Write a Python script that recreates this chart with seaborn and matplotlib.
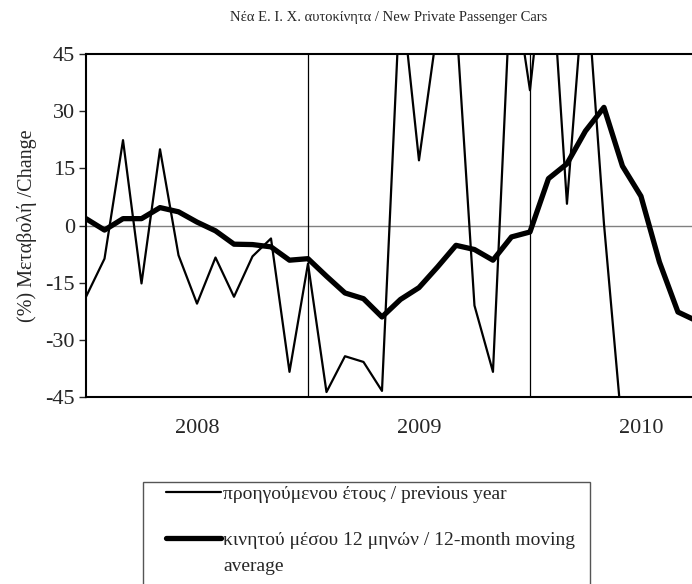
import matplotlib
matplotlib.use("Agg")
import matplotlib.pyplot as plt
import matplotlib.lines as mlines
import matplotlib.patches as mpatches
import seaborn as sns
import pandas as pd

# monthly change (%), one value per month starting Jan 2008
prev_year = [-18.7, -8.7, 22.4, -15.2, 20.0, -7.8, -20.5, -8.4, -18.7, -8.1,
             -3.4, -38.4, -10.0, -43.7, -34.3, -35.8, -43.4, 63.0, 17.1, 52.0,
             55.0, -21.0, -38.4, 68.0, 35.5, 80.0, 5.7, 68.0, 0.5, -54.5]
moving_avg = [1.8, -1.2, 1.8, 1.8, 4.7, 3.6, 0.9, -1.4, -4.9, -5.0,
              -5.6, -9.1, -8.7, -13.3, -17.7, -19.2, -24.0, -19.4, -16.3, -10.9,
              -5.2, -6.3, -9.1, -3.0, -1.7, 12.3, 16.2, 24.8, 31.0, 15.6,
              7.7, -9.6, -22.7, -25.0]
years = ["2008", "2009", "2010"]
yticks = [-45, -30, -15, 0, 15, 30, 45]

label_prev = "προηγούμενου έτους / previous year"
label_avg = "κινητού μέσου 12 μηνών / 12-month moving\naverage"

df_prev = pd.DataFrame({"month": range(len(prev_year)), "value": prev_year})
df_avg = pd.DataFrame({"month": range(len(moving_avg)), "value": moving_avg})

sns.set_style("white")
plt.rcParams["font.family"] = ["Liberation Serif", "DejaVu Serif"]

fig = plt.figure(figsize=(6.92, 5.84), dpi=100)
ax = fig.add_axes([0.1243, 0.3202, 0.8757, 0.5873])

ax.axhline(0, color="#808080", lw=1.0, zorder=1)
for k in range(1, len(years)):
    ax.axvline(12 * k, color="black", lw=0.9, zorder=1)

sns.lineplot(data=df_prev, x="month", y="value", ax=ax, color="black", lw=1.6, zorder=3)
sns.lineplot(data=df_avg, x="month", y="value", ax=ax, color="black", lw=3.8, zorder=4)

ax.set_xlim(0, 32.76)
ax.set_ylim(-45, 45)
ax.set_yticks(yticks)
ax.set_yticklabels([str(t) for t in yticks], fontsize=16)
ax.set_xticks([12 * i + 6 for i in range(len(years))])
ax.set_xticklabels(years, fontsize=16)
ax.tick_params(axis="x", length=0, pad=16)
ax.tick_params(axis="y", direction="out", length=5, width=1, left=True, pad=3)
ax.set_xlabel("")
ax.set_ylabel("(%) Μεταβολή /Change", fontsize=14.5, labelpad=6)
ax.set_title("Νέα Ε. Ι. Χ. αυτοκίνητα / New Private Passenger Cars", fontsize=10.5, pad=24)

for side in ["left", "bottom", "top"]:
    ax.spines[side].set_linewidth(1.5)
    ax.spines[side].set_color("black")
ax.spines["right"].set_visible(False)

# legend box drawn by hand (handle next to first line of each label)
W, H = 692.0, 584.0
fig.add_artist(mpatches.Rectangle((143 / W, -0.05), (590 - 143) / W, 0.05 + 1 - 482 / H,
                                  transform=fig.transFigure, fill=False,
                                  edgecolor="#555555", lw=1.0))
for y_px, lw, label in [(492, 1.6, label_prev), (538, 3.8, label_avg)]:
    fy = 1 - y_px / H
    fig.add_artist(mlines.Line2D([166 / W, 221 / W], [fy, fy], color="black", lw=lw,
                                 transform=fig.transFigure))
    fig.text(223 / W, fy + 0.010, label, fontsize=14, va="top", ha="left",
             linespacing=1.65)

fig.savefig("out.png", dpi=100)
